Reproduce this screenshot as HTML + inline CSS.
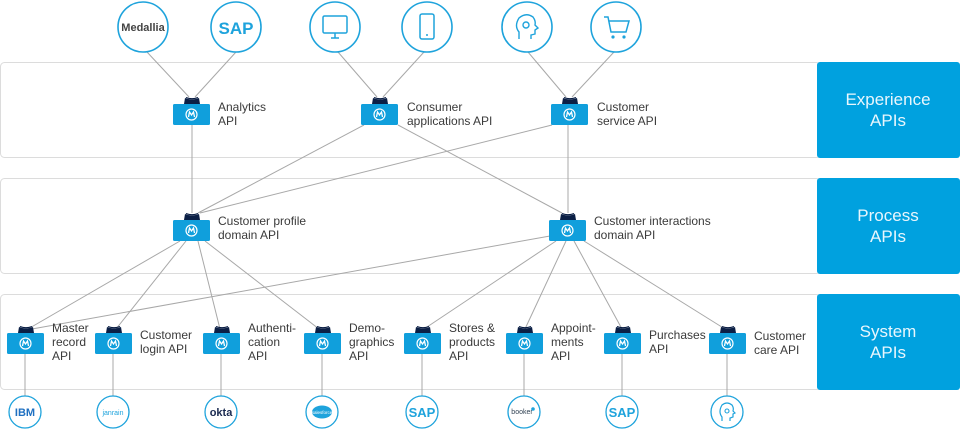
<!DOCTYPE html>
<html><head><meta charset="utf-8"><style>
html,body{margin:0;padding:0;background:#fff;}
svg{display:block;font-family:"Liberation Sans",sans-serif;}
.t{font-size:12px;fill:#3a3a3a;}
.b{font-size:17px;fill:#e8f6fd;text-anchor:middle;}
.ln{stroke:#a8a8a8;stroke-width:1;fill:none;}
.c{fill:#fff;stroke:#1ea3dc;stroke-width:1.6;}
.cs{fill:#fff;stroke:#1ea3dc;stroke-width:1.3;}
</style></head><body>
<svg width="960" height="430" viewBox="0 0 960 430" xmlns="http://www.w3.org/2000/svg">
<defs>
<symbol id="api" viewBox="0 0 38 29" width="38" height="29" overflow="visible">
<path d="M11 7 L12 1 Q19 4 26 1 L27 7 Z" fill="#0b1f45"/>
<path d="M13 0.5 Q19 3 25 0.5" stroke="#0b1f45" stroke-width="1.2" fill="none"/>
<rect x="0" y="7" width="37" height="21" rx="1.5" fill="#109fdc"/>
<circle cx="18.5" cy="17.5" r="5.5" fill="none" stroke="#fff" stroke-width="1.2"/>
<path d="M15.5 20 L16.5 15 L18.5 18 L20.5 15 L21.5 20" stroke="#fff" stroke-width="1.3" fill="none"/>
</symbol>
</defs>
<!-- bands -->
<rect x="0.5" y="62.5" width="820" height="95" rx="4" fill="#fff" stroke="#dcdcdc"/>
<rect x="0.5" y="178.5" width="820" height="95" rx="4" fill="#fff" stroke="#dcdcdc"/>
<rect x="0.5" y="294.5" width="820" height="95" rx="4" fill="#fff" stroke="#dcdcdc"/>
<rect x="817" y="62" width="143" height="96" rx="3" fill="#00a1df"/>
<rect x="817" y="178" width="143" height="96" rx="3" fill="#00a1df"/>
<rect x="817" y="294" width="143" height="96" rx="3" fill="#00a1df"/>
<text class="b" x="888" y="105">Experience</text><text class="b" x="888" y="126">APIs</text>
<text class="b" x="888" y="221">Process</text><text class="b" x="888" y="242">APIs</text>
<text class="b" x="888" y="337">System</text><text class="b" x="888" y="358">APIs</text>
<!-- connectors -->
<g class="ln">
<line x1="147" y1="52" x2="189" y2="97"/><line x1="236" y1="52" x2="195" y2="97"/>
<line x1="338" y1="52" x2="377" y2="97"/><line x1="424" y1="52" x2="383" y2="97"/>
<line x1="528" y1="52" x2="566" y2="97"/><line x1="614" y1="52" x2="572" y2="97"/>
<line x1="192" y1="125" x2="192" y2="213"/>
<line x1="568" y1="125" x2="568" y2="213"/>
<line x1="364" y1="125" x2="198" y2="213"/>
<line x1="552" y1="125" x2="200" y2="213"/>
<line x1="398" y1="125" x2="562" y2="213"/>
<line x1="180" y1="241" x2="28" y2="329"/>
<line x1="186" y1="241" x2="116" y2="329"/>
<line x1="198" y1="241" x2="220" y2="329"/>
<line x1="205" y1="241" x2="319" y2="329"/>
<line x1="550" y1="236" x2="32" y2="329"/>
<line x1="556" y1="241" x2="424" y2="329"/>
<line x1="566" y1="241" x2="525" y2="329"/>
<line x1="574" y1="241" x2="622" y2="329"/>
<line x1="584" y1="241" x2="725" y2="329"/>
<line x1="25" y1="354" x2="25" y2="396"/><line x1="113" y1="354" x2="113" y2="396"/>
<line x1="221" y1="354" x2="221" y2="396"/><line x1="322" y1="354" x2="322" y2="396"/>
<line x1="422" y1="354" x2="422" y2="396"/><line x1="524" y1="354" x2="524" y2="396"/>
<line x1="622" y1="354" x2="622" y2="396"/><line x1="727" y1="354" x2="727" y2="396"/>
</g>
<!-- top circles -->
<circle class="c" cx="143" cy="27" r="25"/><text x="143" y="31" font-size="11" font-weight="bold" fill="#444" text-anchor="middle">Medallia</text>
<circle class="c" cx="236" cy="27" r="25"/><text x="236" y="34" font-size="17" font-weight="bold" fill="#1ea3dc" text-anchor="middle">SAP</text>
<circle class="c" cx="335" cy="27" r="25"/>
<rect x="323" y="16" width="24" height="17" rx="1.5" fill="none" stroke="#1ea3dc" stroke-width="1.5"/><path d="M331 38 H339 M335 33 V38" stroke="#1ea3dc" stroke-width="1.5"/>
<circle class="c" cx="427" cy="27" r="25"/>
<rect x="420" y="14" width="14" height="25" rx="2" fill="none" stroke="#1ea3dc" stroke-width="1.5"/><circle cx="427" cy="35" r="1" fill="#1ea3dc"/>
<circle class="c" cx="527" cy="27" r="25"/>
<path d="M519 39 V32 Q514 26 519 18 Q526 12 533 17 Q536 21 535 25 L538 28 L535 30 V34 L531 35 V39" fill="none" stroke="#1ea3dc" stroke-width="1.4"/><circle cx="526" cy="25" r="3" fill="none" stroke="#1ea3dc" stroke-width="1.4"/>
<circle class="c" cx="616" cy="27" r="25"/>
<path d="M604 17 H608 L611 32 H626 L629 21 H609" fill="none" stroke="#1ea3dc" stroke-width="1.5"/><circle cx="613" cy="37" r="1.6" fill="#1ea3dc"/><circle cx="624" cy="37" r="1.6" fill="#1ea3dc"/>
<!-- experience icons -->
<use href="#api" x="173" y="97"/><text class="t" x="218" y="111">Analytics</text><text class="t" x="218" y="125">API</text>
<use href="#api" x="361" y="97"/><text class="t" x="407" y="111">Consumer</text><text class="t" x="407" y="125">applications API</text>
<use href="#api" x="551" y="97"/><text class="t" x="597" y="111">Customer</text><text class="t" x="597" y="125">service API</text>
<!-- process icons -->
<use href="#api" x="173" y="213"/><text class="t" x="218" y="225">Customer profile</text><text class="t" x="218" y="239">domain API</text>
<use href="#api" x="549" y="213"/><text class="t" x="594" y="225">Customer interactions</text><text class="t" x="594" y="239">domain API</text>
<!-- system icons -->
<use href="#api" x="7" y="326"/><text class="t" x="52" y="332">Master</text><text class="t" x="52" y="346">record</text><text class="t" x="52" y="360">API</text>
<use href="#api" x="95" y="326"/><text class="t" x="140" y="339">Customer</text><text class="t" x="140" y="353">login API</text>
<use href="#api" x="203" y="326"/><text class="t" x="248" y="332">Authenti-</text><text class="t" x="248" y="346">cation</text><text class="t" x="248" y="360">API</text>
<use href="#api" x="304" y="326"/><text class="t" x="349" y="332">Demo-</text><text class="t" x="349" y="346">graphics</text><text class="t" x="349" y="360">API</text>
<use href="#api" x="404" y="326"/><text class="t" x="449" y="332">Stores &amp;</text><text class="t" x="449" y="346">products</text><text class="t" x="449" y="360">API</text>
<use href="#api" x="506" y="326"/><text class="t" x="551" y="332">Appoint-</text><text class="t" x="551" y="346">ments</text><text class="t" x="551" y="360">API</text>
<use href="#api" x="604" y="326"/><text class="t" x="649" y="339">Purchases</text><text class="t" x="649" y="353">API</text>
<use href="#api" x="709" y="326"/><text class="t" x="754" y="340">Customer</text><text class="t" x="754" y="354">care API</text>
<!-- bottom circles -->
<circle class="cs" cx="25" cy="412" r="16"/><text x="25" y="416" font-size="11" font-weight="bold" fill="#1f70c1" text-anchor="middle">IBM</text>
<circle class="cs" cx="113" cy="412" r="16"/><text x="113" y="415" font-size="7" fill="#1ea3dc" text-anchor="middle">janrain</text>
<circle class="cs" cx="221" cy="412" r="16"/><text x="221" y="416" font-size="11" font-weight="bold" fill="#1a2a50" text-anchor="middle">okta</text>
<circle class="cs" cx="322" cy="412" r="16"/><ellipse cx="322" cy="412" rx="10" ry="6.5" fill="#1ea3dc"/><text x="322" y="414" font-size="4.5" fill="#fff" text-anchor="middle">salesforce</text>
<circle class="cs" cx="422" cy="412" r="16"/><text x="422" y="417" font-size="13" font-weight="bold" fill="#1ea3dc" text-anchor="middle">SAP</text>
<circle class="cs" cx="524" cy="412" r="16"/><text x="522" y="414" font-size="7" fill="#345" text-anchor="middle">booker</text><circle cx="533" cy="409" r="1.8" fill="#1ea3dc"/>
<circle class="cs" cx="622" cy="412" r="16"/><text x="622" y="417" font-size="13" font-weight="bold" fill="#1ea3dc" text-anchor="middle">SAP</text>
<circle class="cs" cx="727" cy="412" r="16"/>
<path d="M722 421 V417 Q718 412 722 405 Q727 401 732 405 Q734 408 733 411 L735 413 L733 414 V417 L730 418 V421" fill="none" stroke="#1ea3dc" stroke-width="1.2"/><circle cx="727" cy="411" r="2" fill="none" stroke="#1ea3dc" stroke-width="1.1"/>
</svg>
</body></html>
